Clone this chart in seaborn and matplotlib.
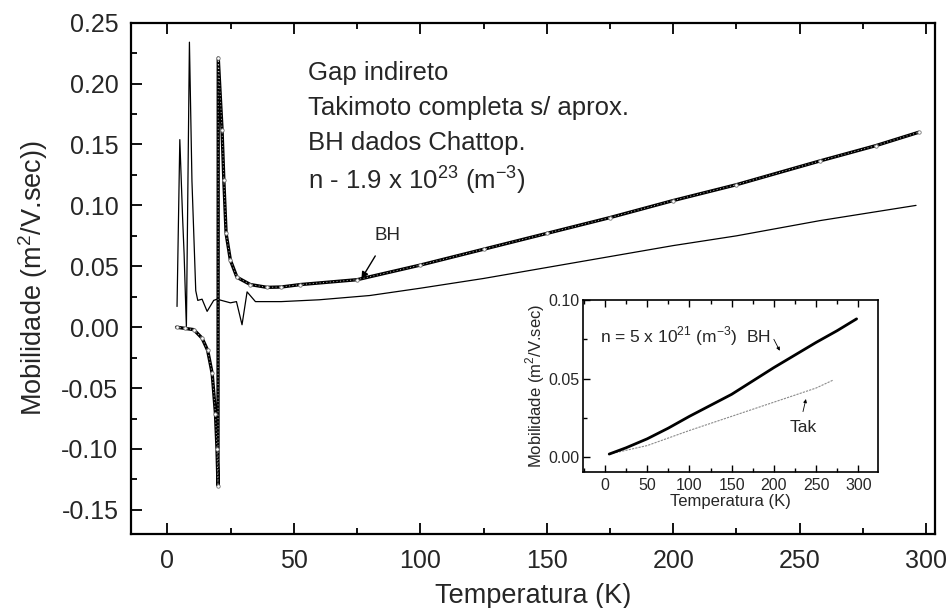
import numpy as np
import pandas as pd
import matplotlib
matplotlib.use("Agg")
import matplotlib.pyplot as plt
import seaborn as sns
from matplotlib.ticker import MultipleLocator, FormatStrFormatter

# ---------------- data ----------------
bh_T = [3.6, 7.0, 10.4, 13.7, 15.9, 17.7, 19.0, 19.6, 20.0, 20.1, 21.6, 22.3,
        23.2, 24.9, 27.5, 32.8, 39.4, 45.0, 52.6, 75, 100, 125, 150, 175, 200,
        225, 258, 280, 297]
bh_mu = [0.0, -0.001, -0.002, -0.009, -0.019, -0.038, -0.071, -0.100, -0.130,
         0.221, 0.162, 0.121, 0.077, 0.055, 0.041, 0.035, 0.0327, 0.033, 0.035,
         0.039, 0.051, 0.064, 0.077, 0.090, 0.104, 0.117, 0.1365, 0.149, 0.160]

tak_T = [3.8, 4.9, 6.0, 6.6, 7.5, 8.7, 9.7, 11.2, 12.0, 13.7, 15.7, 18.3, 19.6,
         24.9, 27.3, 29.5, 31.5, 34.8, 45, 60, 80, 100, 125, 150, 175, 200,
         225, 258, 296]
tak_mu = [0.017, 0.154, 0.090, 0.060, 0.0, 0.234, 0.120, 0.030, 0.022, 0.023,
          0.013, 0.022, 0.023, 0.020, 0.021, 0.002, 0.029, 0.021, 0.021, 0.0225,
          0.026, 0.032, 0.040, 0.049, 0.058, 0.067, 0.075, 0.0875, 0.100]

in_bh_T = [5, 25, 50, 75, 100, 125, 150, 175, 200, 225, 250, 275, 298]
in_bh_mu = [0.002, 0.006, 0.0117, 0.0185, 0.026, 0.033, 0.040, 0.0485, 0.057,
            0.065, 0.073, 0.0805, 0.088]
in_tak_T = [5, 50, 100, 150, 200, 250, 270]
in_tak_mu = [0.002, 0.0074, 0.017, 0.026, 0.035, 0.044, 0.049]

main_xticks = [0, 50, 100, 150, 200, 250, 300]
main_yticks = [-0.15, -0.10, -0.05, 0.00, 0.05, 0.10, 0.15, 0.20, 0.25]
inset_xticks = [0, 50, 100, 150, 200, 250, 300]
inset_yticks = [0.00, 0.05, 0.10]

# ---------------- style ----------------
sns.set_theme(style="ticks")
plt.rcParams["font.family"] = ["Liberation Sans", "DejaVu Sans"]
plt.rcParams["mathtext.fontset"] = "custom"
plt.rcParams["mathtext.rm"] = "Liberation Sans"

W, H = 951, 608
fig = plt.figure(figsize=(W / 100, H / 100), dpi=100)
fig.patch.set_facecolor("white")

def px_axes(l, t, r, b):
    return [l / W, 1 - b / H, (r - l) / W, (b - t) / H]

ax = fig.add_axes(px_axes(131, 22.7, 935, 534))

df_bh = pd.DataFrame({"T": bh_T, "mu": bh_mu})
df_tak = pd.DataFrame({"T": tak_T, "mu": tak_mu})

sns.lineplot(data=df_tak, x="T", y="mu", ax=ax, sort=False, estimator=None,
             color="black", linewidth=0.9)
sns.lineplot(data=df_bh, x="T", y="mu", ax=ax, sort=False, estimator=None,
             color="black", linewidth=2.4)
sns.lineplot(data=df_bh, x="T", y="mu", ax=ax, sort=False, estimator=None,
             color="#bbbbbb", linewidth=0.7,
             marker="o", markersize=2.5, markerfacecolor="white",
             markeredgecolor="#777777", markeredgewidth=0.6)
ax.lines[-1].set_linestyle((0, (1, 2.5)))

ax.set_xlim(-14.4, 303.5)
ax.set_ylim(-0.1698, 0.25)
ax.set_xticks(main_xticks)
ax.set_yticks(main_yticks)
ax.xaxis.set_minor_locator(MultipleLocator(25))
ax.yaxis.set_minor_locator(MultipleLocator(0.025))
ax.yaxis.set_major_formatter(FormatStrFormatter("%.2f"))
ax.tick_params(axis="both", which="both", direction="in", top=True, right=False,
               color="black", width=1.3)
ax.tick_params(axis="both", which="major", length=8, labelsize=18)
ax.tick_params(axis="y", which="major", pad=9)
ax.tick_params(axis="x", which="major", pad=11)
ax.tick_params(axis="both", which="minor", length=4)
for s in ax.spines.values():
    s.set_linewidth(1.6)
    s.set_color("black")
ax.set_xlabel("Temperatura (K)", fontsize=19.5, labelpad=7)
ax.set_ylabel("Mobilidade (m$^2$/V.sec))", fontsize=19.5, labelpad=8)

# text block
lines = ["Gap indireto", "Takimoto completa s/ aprox.", "BH dados Chattop.",
         "n - 1.9 x 10$^{23}$ (m$^{-3}$)"]
ys = [73, 108, 143, 180]
for txt, yy in zip(lines, ys):
    fig.text(308 / W, 1 - yy / H, txt, fontsize=18.5, va="center", ha="left")

ax.annotate("BH", xy=(76.7, 0.0397), xytext=(87, 0.075), fontsize=13.5,
            ha="center", va="center",
            arrowprops=dict(arrowstyle="-|>", color="black", lw=1.0,
                            shrinkA=7, shrinkB=0, mutation_scale=10))

# ---------------- inset ----------------
ins = fig.add_axes(px_axes(583.3, 300, 878.3, 472.3))
df_ib = pd.DataFrame({"T": in_bh_T, "mu": in_bh_mu})
df_it = pd.DataFrame({"T": in_tak_T, "mu": in_tak_mu})
sns.lineplot(data=df_it, x="T", y="mu", ax=ins, sort=False, estimator=None,
             color="#8a8a8a", linewidth=0.8)
ins.lines[-1].set_linestyle((0, (2, 1)))
sns.lineplot(data=df_ib, x="T", y="mu", ax=ins, sort=False, estimator=None,
             color="black", linewidth=2.0)
ins.set_xlim(-25.7, 323.7)
ins.set_ylim(-0.0096, 0.098)
ins.set_xticks(inset_xticks)
ins.set_yticks(inset_yticks)
ins.xaxis.set_minor_locator(MultipleLocator(25))
ins.yaxis.set_minor_locator(MultipleLocator(0.025))
ins.yaxis.set_major_formatter(FormatStrFormatter("%.2f"))
ins.tick_params(axis="both", which="both", direction="in", top=True, right=False,
                color="black", width=1.0)
ins.tick_params(axis="both", which="major", length=5, labelsize=11.5)
ins.tick_params(axis="y", which="major", pad=3)
ins.tick_params(axis="x", which="major", pad=4)
ins.tick_params(axis="both", which="minor", length=3)
for s in ins.spines.values():
    s.set_linewidth(1.2)
    s.set_color("black")
ins.set_xlabel("Temperatura (K)", fontsize=12, labelpad=1)
ins.set_ylabel("Mobilidade (m$^2$/V.sec)", fontsize=12, labelpad=1)

ins.text(-6, 0.077, "n = 5 x 10$^{21}$ (m$^{-3}$)  BH", fontsize=12.5,
         ha="left", va="center")
ins.text(234.5, 0.019, "Tak", fontsize=12.5, ha="center", va="center")
ins.annotate("", xy=(207, 0.0677), xytext=(200, 0.075),
             arrowprops=dict(arrowstyle="-|>", color="black", lw=0.6,
                             mutation_scale=5, shrinkA=0, shrinkB=0))
ins.annotate("", xy=(238, 0.037), xytext=(234.5, 0.029),
             arrowprops=dict(arrowstyle="-|>", color="black", lw=0.6,
                             mutation_scale=5, shrinkA=0, shrinkB=0))

fig.savefig("out.png", dpi=100, facecolor="white")
